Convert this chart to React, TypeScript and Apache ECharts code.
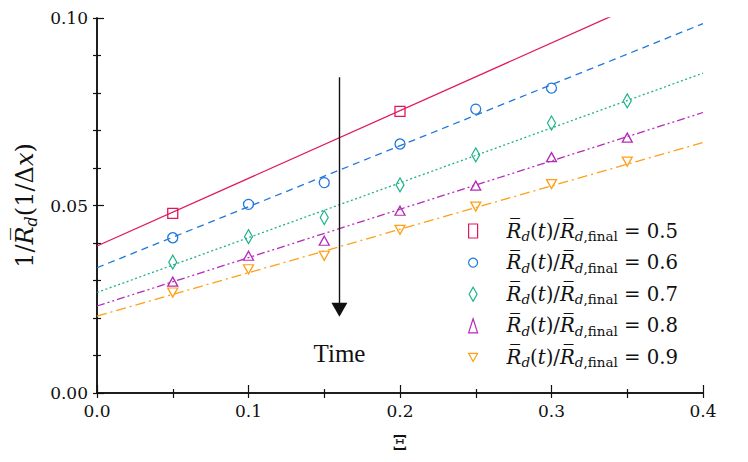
import React, { useEffect, useRef } from "react";
import * as echarts from "echarts";

const ratioLabels = ["0.5", "0.6", "0.7", "0.8", "0.9"];
const colors = ["#E0185A", "#1F78DB", "#1DB389", "#B62BB9", "#FFA019"];

const redX = [0.05, 0.2];
const redY = [0.0479, 0.0751];
const blueX = [0.05, 0.1, 0.15, 0.2, 0.25, 0.3];
const blueY = [0.0414, 0.0503, 0.0561, 0.0664, 0.0757, 0.0813];
const greenX = [0.05, 0.1, 0.15, 0.2, 0.25, 0.3, 0.35];
const greenY = [0.0349, 0.0417, 0.0468, 0.0555, 0.0635, 0.072, 0.0779];
const magentaX = [0.05, 0.1, 0.15, 0.2, 0.25, 0.3, 0.35];
const magentaY = [0.0297, 0.0366, 0.0406, 0.0486, 0.0553, 0.0629, 0.0681];
const orangeX = [0.05, 0.1, 0.15, 0.2, 0.25, 0.3, 0.35];
const orangeY = [0.0268, 0.033, 0.0366, 0.0435, 0.0497, 0.0557, 0.0617];

// fitted lines: value at Xi = 0 and at Xi = 0.4
const fitX = [0, 0.4];
const fitStart = [0.0392, 0.0334, 0.0268, 0.0232, 0.0205];
const fitEnd = [0.1114, 0.0985, 0.0853, 0.0748, 0.0668];

const arrowX = 0.16;
const arrowTop = 0.0842;
const arrowEnd = 0.0222;

const xTicks = [0, 0.4, 0.1];
const yTicks = [0, 0.1, 0.05];

const FONT = "'DejaVu Serif', serif";

export default function App() {
  const ref = useRef<HTMLDivElement>(null);
  useEffect(() => {
    const chart = echarts.init(ref.current!, null, { renderer: "svg" });
    const xs = [redX, blueX, greenX, magentaX, orangeX];
    const ys = [redY, blueY, greenY, magentaY, orangeY];
    const symbols = ["rect", "circle", "diamond", "triangle", "path://M0,0L10,0L5,9Z"];
    const sizes: any[] = [10, 10, [8, 14], [10, 9], [10, 9]];
    const legendIcons = ["rect", "circle", "path://M4,0L8,7L4,14L0,7Z", "triangle", "path://M0,0L10,0L5,9Z"];
    const dashes: any[] = ["solid", [7, 5], [2, 2.5], [8, 3, 2, 3, 2, 3], [10, 4, 2, 4]];
    const names = ratioLabels.map((r) => "r" + r);

    const series: any[] = [];
    for (let i = 0; i < 5; i++) {
      series.push({
        type: "line",
        silent: true,
        symbol: "none",
        data: fitX.map((x, j) => [x, j === 0 ? fitStart[i] : fitEnd[i]]),
        lineStyle: { color: colors[i], width: 1.3, type: dashes[i] },
        z: 2,
      });
    }
    for (let i = 0; i < 5; i++) {
      const s: any = {
        type: "scatter",
        name: names[i],
        symbol: symbols[i],
        symbolSize: sizes[i],
        data: xs[i].map((x, j) => [x, ys[i][j]]),
        itemStyle: { color: "transparent", borderColor: colors[i], borderWidth: 1.3, opacity: 1 },
        z: 3,
      };
      if (i === 0) {
        s.markLine = {
          silent: true,
          animation: false,
          label: { show: false },
          lineStyle: { color: "#111", width: 1.4, type: "solid" },
          data: [
            [
              { coord: [arrowX, arrowTop], symbol: "none" },
              { coord: [arrowX, arrowEnd], symbol: "triangle", symbolSize: [16, 14] },
            ],
          ],
        };
      }
      series.push(s);
    }

    const legendRich: any = {
      sp: { width: 24 },
      R: { fontFamily: FONT, fontSize: 19.7, fontStyle: "italic", lineHeight: 24, color: "#111" },
      n: { fontFamily: FONT, fontSize: 19.7, lineHeight: 24, color: "#111" },
      i: { fontFamily: FONT, fontSize: 19.7, fontStyle: "italic", lineHeight: 24, color: "#111" },
      si: { fontFamily: FONT, fontSize: 13.5, fontStyle: "italic", lineHeight: 13, verticalAlign: "bottom", color: "#111" },
      s: { fontFamily: FONT, fontSize: 13.5, lineHeight: 13, verticalAlign: "bottom", color: "#111" },
    };

    const axisLine = { show: true, lineStyle: { color: "#111", width: 1.5 } };

    chart.setOption({
      animation: false,
      grid: { left: 89, top: 10, right: 37, bottom: 61, containLabel: false, outerBoundsMode: "none" },
      xAxis: [
        {
          type: "value",
          position: "bottom",
          min: xTicks[0],
          max: xTicks[1],
          interval: xTicks[2],
          axisLine,
          axisTick: { show: true, inside: true, length: 8, lineStyle: { color: "#111", width: 1.2 } },
          minorTick: { show: true, splitNumber: 2, length: 4, lineStyle: { color: "#111", width: 1.2 } },
          splitLine: { show: false },
          axisLabel: {
            formatter: (v: number) => v.toFixed(1),
            fontFamily: FONT,
            fontSize: 17,
            color: "#111",
            margin: 9,
          },
          name: "Ξ",
          nameLocation: "middle",
          nameGap: 39,
          nameTextStyle: { fontFamily: FONT, fontSize: 21, color: "#111" },
        },
        {
          type: "value",
          position: "top",
          min: 0,
          max: 0.4,
          interval: 0.05,
          axisLine,
          axisTick: { show: true, inside: true, length: 5, lineStyle: { color: "#111", width: 1.2 } },
          axisLabel: { show: false },
          splitLine: { show: false },
        },
      ],
      yAxis: [
        {
          type: "value",
          position: "left",
          min: yTicks[0],
          max: yTicks[1],
          interval: yTicks[2],
          axisLine,
          axisTick: { show: true, inside: true, length: 7, lineStyle: { color: "#111", width: 1.2 } },
          minorTick: { show: true, splitNumber: 5, length: 4, lineStyle: { color: "#111", width: 1.2 } },
          splitLine: { show: false },
          axisLabel: {
            formatter: (v: number) => v.toFixed(2),
            fontFamily: FONT,
            fontSize: 17,
            color: "#111",
            margin: 9,
          },
          name: "{n|1/}{i|R\u0305}{s|d}{n|(1/Δ}{i|x}{n|)}",
          nameLocation: "middle",
          nameRotate: 90,
          nameGap: 58,
          nameTextStyle: {
            rich: {
              n: { fontFamily: FONT, fontSize: 24, lineHeight: 29, color: "#111" },
              i: { fontFamily: FONT, fontSize: 24, fontStyle: "italic", lineHeight: 29, color: "#111" },
              s: { fontFamily: FONT, fontSize: 16, fontStyle: "italic", lineHeight: 16, verticalAlign: "bottom", color: "#111" },
            },
          },
        },
        {
          type: "value",
          position: "right",
          min: 0,
          max: 0.1,
          interval: 0.01,
          axisLine,
          axisTick: { show: true, inside: true, length: 4, lineStyle: { color: "#111", width: 1.2 } },
          axisLabel: { show: false },
          splitLine: { show: false },
        },
      ],
      legend: {
        orient: "vertical",
        left: 460,
        top: 213,
        padding: 0,
        itemGap: 9.6,
        itemWidth: 9,
        itemHeight: 14,
        symbolKeepAspect: true,
        selectedMode: false,
        data: names.map((n, i) => ({
          name: n,
          icon: legendIcons[i],
          itemStyle: { color: "transparent", borderColor: colors[i], borderWidth: 1.2 },
        })),
        formatter: (name: string) => {
          const r = name.slice(1);
          return `{sp|}{R|R\u0305}{si|d}{n|(}{i|t}{n|)/}{R|R\u0305}{si|d}{s|,final}{n| = ${r}}`;
        },
        textStyle: { rich: legendRich, fontFamily: FONT, fontSize: 19.7, color: "#111" },
      },
      graphic: [
        {
          type: "text",
          x: 331.5,
          y: 345,
          style: {
            text: "Time",
            fontFamily: "'Liberation Serif', serif",
            fontSize: 25,
            fill: "#111",
            align: "center",
            verticalAlign: "middle",
          },
        },
      ],
      series,
    });
    return () => chart.dispose();
  }, []);
  return <div ref={ref} style={{ width: 732, height: 446 }} />;
}
